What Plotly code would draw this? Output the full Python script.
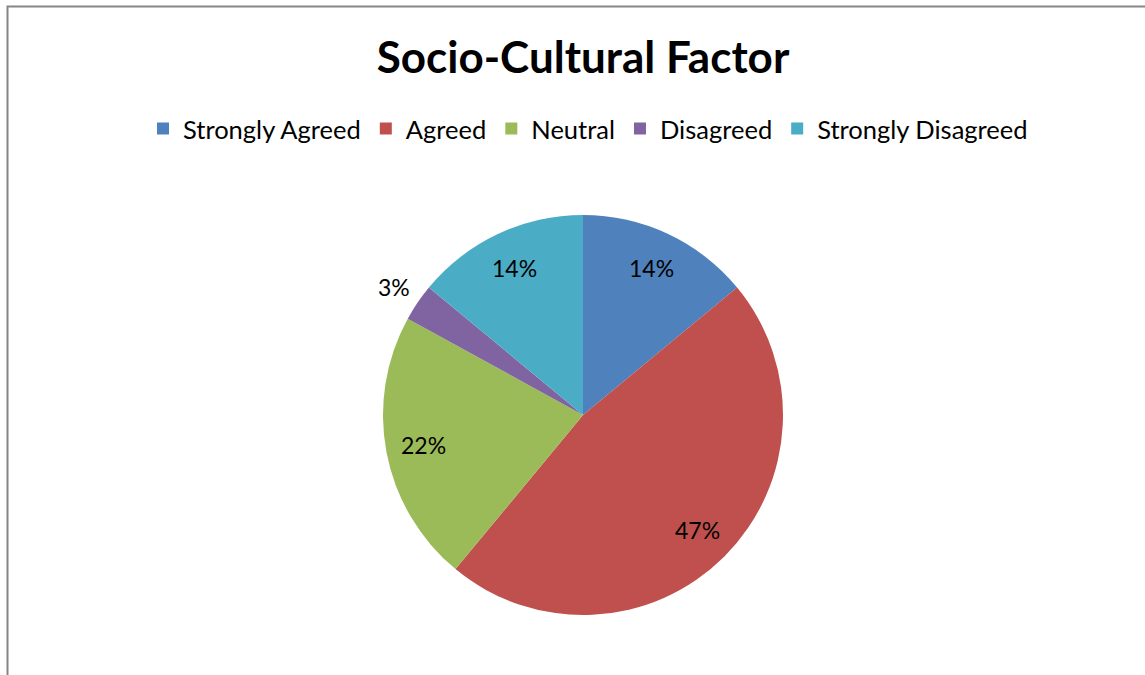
import math
import plotly.graph_objects as go

categories = ["Strongly Agreed", "Agreed", "Neutral", "Disagreed", "Strongly Disagreed"]
values = [14, 47, 22, 3, 14]
colors = ["#4F81BD", "#C0504D", "#9BBB59", "#8064A2", "#4BACC6"]

W, H = 1145, 675
cx, cy, r = 583, 415, 200

fig = go.Figure(go.Pie(
    labels=categories,
    values=values,
    marker=dict(colors=colors, line=dict(width=0)),
    sort=False,
    direction="clockwise",
    rotation=0,
    textinfo="none",
    domain=dict(x=[(cx - r) / W, (cx + r) / W], y=[1 - (cy + r) / H, 1 - (cy - r) / H]),
    hoverinfo="label+percent",
    showlegend=True,
))

# data labels placed along each slice's mid-angle (derived from the values)
total = sum(values)
annotations = []
cum = 0
for v in values:
    frac = v / total
    mid = (cum + frac / 2) * 2 * math.pi
    cum += frac
    dist = 0.81 if frac >= 0.05 else 1.14
    px = cx + dist * r * math.sin(mid)
    py = cy - dist * r * math.cos(mid)
    annotations.append(dict(
        x=px / W, y=1 - py / H, xref="paper", yref="paper",
        text=f"{round(frac * 100)}%", showarrow=False,
        xanchor="center", yanchor="middle",
        font=dict(family="Lato", size=23, color="black"),
    ))

fig.update_layout(
    width=W, height=H,
    margin=dict(l=0, r=0, t=0, b=0),
    paper_bgcolor="white",
    title=dict(text="<b>Socio-Cultural Factor</b>", x=583 / W, xanchor="center",
               y=1 - 58 / H, yanchor="middle",
               font=dict(family="Lato", size=44, color="black")),
    legend=dict(orientation="h", x=588 / W, xanchor="center", y=1 - 129 / H, yanchor="middle",
                font=dict(family="Lato", size=25.5, color="black"), traceorder="normal"),
    annotations=annotations,
    shapes=[dict(type="rect", xref="paper", yref="paper",
                 x0=7.5 / W, x1=1.05, y0=-0.05, y1=1 - 6.5 / H,
                 line=dict(color="#868686", width=2), fillcolor="rgba(0,0,0,0)")],
)

fig.write_html("out.html", config={"displayModeBar": False},
               post_script="document.body.style.margin='0';")
